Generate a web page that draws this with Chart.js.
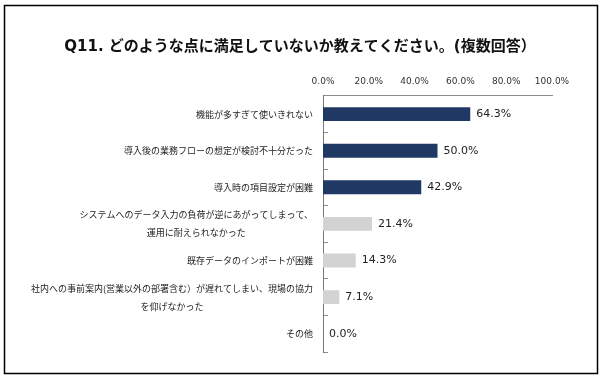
<!DOCTYPE html>
<html>
<head>
<meta charset="utf-8">
<script src="https://cdn.jsdelivr.net/npm/chart.js@4/dist/chart.umd.min.js"></script>
<style>
html,body{margin:0;padding:0;background:#fff;}
#wrap{width:605px;height:380px;position:relative;}
</style>
</head>
<body>
<div id="wrap"><canvas id="c" width="605" height="380"></canvas></div>
<script>
const titleText = "Q11. どのような点に満足していないか教えてください。(複数回答）";
const categories = [
  ["機能が多すぎて使いきれない"],
  ["導入後の業務フローの想定が検討不十分だった"],
  ["導入時の項目設定が困難"],
  ["システムへのデータ入力の負荷が逆にあがってしまって、", "運用に耐えられなかった"],
  ["既存データのインポートが困難"],
  ["社内への事前案内(営業以外の部署含む）が遅れてしまい、現場の協力", "を仰げなかった"],
  ["その他"]
];
const values = [64.3, 50.0, 42.9, 21.4, 14.3, 7.1, 0.0];
const xTicks = [0, 20, 40, 60, 80, 100];
const barColors = ["#1f3864", "#1f3864", "#1f3864", "#d3d3d3", "#d3d3d3", "#d3d3d3", "#d3d3d3"];

const LABEL_FONT = '9px "Noto Sans CJK JP", sans-serif';
const NUM_FONT = '"DejaVu Sans", "Noto Sans CJK JP", sans-serif';

const framePlugin = {
  id: 'frame',
  afterDraw(chart) {
    const ctx = chart.ctx;
    ctx.save();
    ctx.strokeStyle = '#000';
    ctx.lineWidth = 1.5;
    ctx.strokeRect(4.5, 5.5, 593, 368);
    ctx.font = 'bold 15px ' + NUM_FONT;
    ctx.fillStyle = '#111';
    ctx.textAlign = 'center';
    ctx.textBaseline = 'middle';
    ctx.fillText(titleText, 300, 47);
    ctx.restore();
  }
};

const catLabelPlugin = {
  id: 'catLabels',
  afterDraw(chart) {
    const ctx = chart.ctx;
    const ys = chart.scales.y;
    const rightX = chart.chartArea.left - 10;
    ctx.save();
    ctx.font = LABEL_FONT;
    ctx.fillStyle = '#222';
    ctx.textBaseline = 'middle';
    categories.forEach((lines, i) => {
      const cy = ys.getPixelForTick(i);
      const lh = 18;
      if (lines.length === 1) {
        ctx.textAlign = 'right';
        ctx.fillText(lines[0], rightX, cy);
      } else {
        let maxW = 0;
        lines.forEach(l => { maxW = Math.max(maxW, ctx.measureText(l).width); });
        const cx = rightX - maxW / 2;
        ctx.textAlign = 'center';
        lines.forEach((l, k) => {
          ctx.fillText(l, cx, cy + (k - (lines.length - 1) / 2) * lh);
        });
      }
    });
    ctx.restore();
  }
};

const valueLabelPlugin = {
  id: 'valueLabels',
  afterDatasetsDraw(chart) {
    const ctx = chart.ctx;
    const meta = chart.getDatasetMeta(0);
    ctx.save();
    ctx.font = '11px ' + NUM_FONT;
    ctx.fillStyle = '#222';
    ctx.textAlign = 'left';
    ctx.textBaseline = 'middle';
    meta.data.forEach((el, i) => {
      ctx.fillText(values[i].toFixed(1) + '%', el.x + 6, el.y);
    });
    ctx.restore();
  }
};

new Chart(document.getElementById('c'), {
  type: 'bar',
  data: {
    labels: categories.map(l => l.join('')),
    datasets: [{
      data: values,
      backgroundColor: barColors,
      borderWidth: 0,
      barPercentage: 0.38,
      categoryPercentage: 1
    }]
  },
  options: {
    indexAxis: 'y',
    responsive: false,
    animation: false,
    devicePixelRatio: 1,
    layout: { padding: { left: 323, right: 53, bottom: 28, top: 67 } },
    plugins: {
      legend: { display: false },
      tooltip: { enabled: false },
      title: { display: false }
    },
    scales: {
      x: {
        position: 'top',
        min: 0,
        max: 100,
        afterBuildTicks(scale) { scale.ticks = xTicks.map(v => ({ value: v })); },
        ticks: {
          color: '#333',
          font: { family: NUM_FONT, size: 9 },
          padding: 9,
          callback: v => v.toFixed(1) + '%'
        },
        grid: { display: false, drawTicks: false },
        border: { display: true, color: '#8c8c8c', width: 1 }
      },
      y: {
        afterFit(scale) { scale.width = 0; },
        ticks: { display: false },
        grid: { display: true, drawOnChartArea: false, drawTicks: true, tickLength: -5, color: '#8c8c8c', offset: true },
        border: { display: true, color: '#777', width: 1 }
      }
    }
  },
  plugins: [framePlugin, catLabelPlugin, valueLabelPlugin]
});
</script>
</body>
</html>
